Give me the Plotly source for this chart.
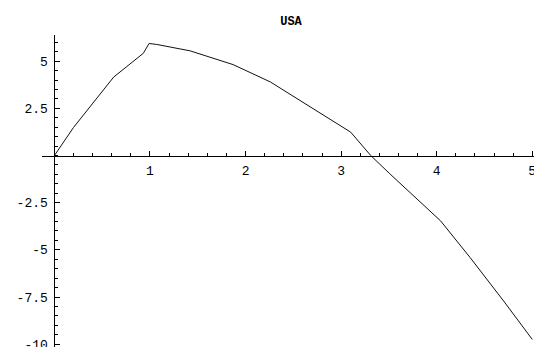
import plotly.graph_objects as go

# Data
x_vals = [0, 0.2, 0.62, 0.93, 0.99, 1.07, 1.42, 1.87, 2.26, 2.6, 3.1, 3.31, 3.51, 4.04, 4.35, 4.70, 5.0]
y_vals = [0, 1.49, 4.16, 5.42, 5.94, 5.89, 5.55, 4.82, 3.9, 2.84, 1.24, 0, -0.97, -3.46, -5.41, -7.71, -9.75]

x_tickvals = [1, 2, 3, 4, 5]
x_ticktext = ["1", "2", "3", "4", "5"]
y_tickvals = [5, 2.5, -2.5, -5, -7.5, -10]
y_ticktext = ["5", "2.5", "-2.5", "-5", "-7.5", "-10"]

title_text = "USA"

x_range = [-0.13, 5.06]
y_range = [-10.15, 6.39]

x_axis_pos = (0 - y_range[0]) / (y_range[1] - y_range[0])
y_axis_pos = (0 - x_range[0]) / (x_range[1] - x_range[0])

font_family = "Liberation Mono, Courier New, monospace"

W, H = 534, 339  # page body has an 8px margin

fig = go.Figure()
fig.add_trace(go.Scatter(
    x=x_vals, y=y_vals, mode="lines",
    line=dict(color="#111111", width=1),
    showlegend=False, hoverinfo="skip",
))

fig.update_layout(
    width=W, height=H,
    margin=dict(l=34, r=4, t=27, b=0, autoexpand=False),
    paper_bgcolor="white", plot_bgcolor="white",
    title=dict(text="<b>" + title_text + "</b>", x=(291 - 8) / W, xanchor="center", y=1 - 13 / H, yanchor="middle",
               font=dict(family=font_family, size=12, color="black")),
    xaxis=dict(
        range=x_range, anchor="free", position=x_axis_pos,
        showgrid=False, zeroline=False, showline=True, linecolor="black", linewidth=1,
        tickvals=x_tickvals, ticktext=x_ticktext,
        ticks="inside", ticklen=5, tickwidth=1, tickcolor="black",
        ticklabelstandoff=3, ticklabeloverflow="allow",
        minor=dict(dtick=0.2, tick0=0, ticks="inside", ticklen=3, tickwidth=1, tickcolor="black"),
        tickfont=dict(family=font_family, size=13, color="black"),
        automargin=False, fixedrange=True,
    ),
    yaxis=dict(
        range=y_range, anchor="free", position=y_axis_pos,
        showgrid=False, zeroline=False, showline=True, linecolor="black", linewidth=1,
        tickvals=y_tickvals, ticktext=y_ticktext,
        ticks="inside", ticklen=5, tickwidth=1, tickcolor="black",
        ticklabelstandoff=4, ticklabeloverflow="allow",
        minor=dict(dtick=0.5, tick0=0, ticks="inside", ticklen=3, tickwidth=1, tickcolor="black"),
        tickfont=dict(family=font_family, size=13, color="black"),
        automargin=False, fixedrange=True,
    ),
)

fig.write_html("out.html")
